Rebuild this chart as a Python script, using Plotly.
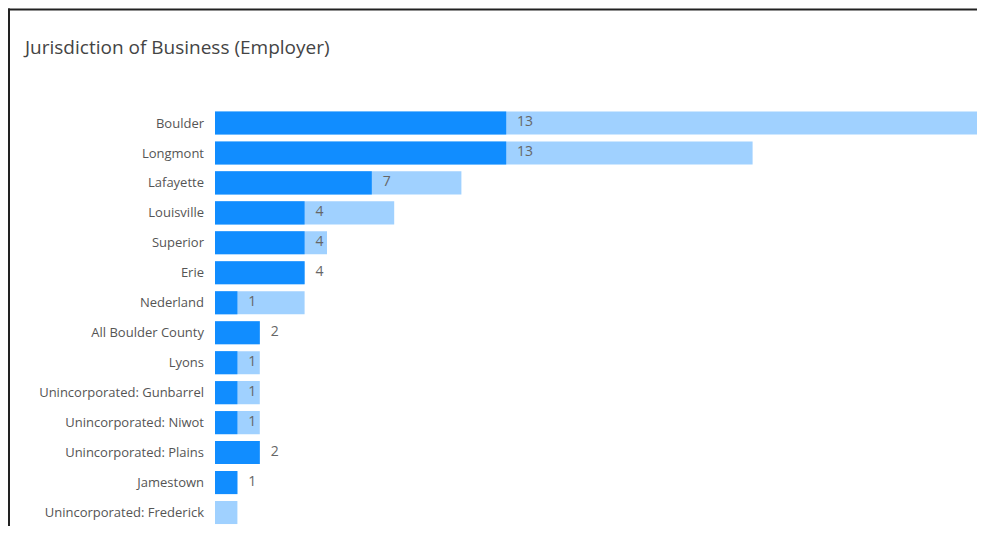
import plotly.graph_objects as go

categories = ["Boulder", "Longmont", "Lafayette", "Louisville", "Superior", "Erie",
              "Nederland", "All Boulder County", "Lyons", "Unincorporated: Gunbarrel",
              "Unincorporated: Niwot", "Unincorporated: Plains", "Jamestown",
              "Unincorporated: Frederick"]
employer_values = [13, 13, 7, 4, 4, 4, 1, 2, 1, 1, 1, 2, 1, 0]
total_values = [36, 24, 11, 8, 5, 4, 4, 2, 2, 2, 2, 2, 1, 1]

# page has an 8px body margin; figure sized to fit the window
OFF = 8
W, H = 985 - 2 * OFF, 534 - 2 * OFF
ML, MR, MT, MB = 215 - OFF, 0, 107.5 - OFF, 0
PW, PH = W - ML - MR, H - MT - MB
x_max = PW / 22.4
ROW_PX = 30
y_bottom = -0.5 + PH / ROW_PX

labels = [f"   {v}" if v > 0 else "" for v in employer_values]

fig = go.Figure()
fig.add_trace(go.Bar(y=categories, x=total_values, orientation="h",
                     marker=dict(color="#A0D1FF", line=dict(width=0)),
                     hoverinfo="skip", showlegend=False))
fig.add_trace(go.Bar(y=categories, x=employer_values, orientation="h",
                     marker=dict(color="#118DFF", line=dict(width=0)),
                     showlegend=False))
fig.add_trace(go.Scatter(y=categories, x=employer_values, mode="text",
                         text=labels, textposition="middle right",
                         textfont=dict(family="Open Sans", size=14, color="#666666"),
                         showlegend=False, hoverinfo="skip", cliponaxis=False))

def px_to_paper_x(px):
    return (px - OFF - ML) / PW

def px_to_paper_y(py):
    return (H - MB - (py - OFF)) / PH

fig.update_layout(
    width=W, height=H,
    margin=dict(l=ML, r=MR, t=MT, b=MB, pad=0),
    barmode="overlay", bargap=0.23,
    plot_bgcolor="white", paper_bgcolor="white",
    xaxis=dict(range=[0, x_max], visible=False, fixedrange=True),
    yaxis=dict(range=[y_bottom, -0.5], showgrid=False, zeroline=False, showline=False,
               ticks="", ticklabelstandoff=10, fixedrange=True,
               tickfont=dict(family="Open Sans", size=13, color="#555555")),
    annotations=[dict(text="Jurisdiction of Business (Employer)", xref="paper", yref="paper",
                      x=px_to_paper_x(21), y=px_to_paper_y(46), xanchor="left", yanchor="middle",
                      showarrow=False,
                      font=dict(family="Open Sans", size=19, color="#444444"))],
    shapes=[
        dict(type="line", xref="paper", yref="paper",
             x0=px_to_paper_x(8), x1=px_to_paper_x(1000),
             y0=px_to_paper_y(9), y1=px_to_paper_y(9),
             line=dict(color="#222222", width=2)),
        dict(type="line", xref="paper", yref="paper",
             x0=px_to_paper_x(9), x1=px_to_paper_x(9),
             y0=px_to_paper_y(8), y1=px_to_paper_y(560),
             line=dict(color="#222222", width=2)),
    ],
)

fig.write_html("out.html")
